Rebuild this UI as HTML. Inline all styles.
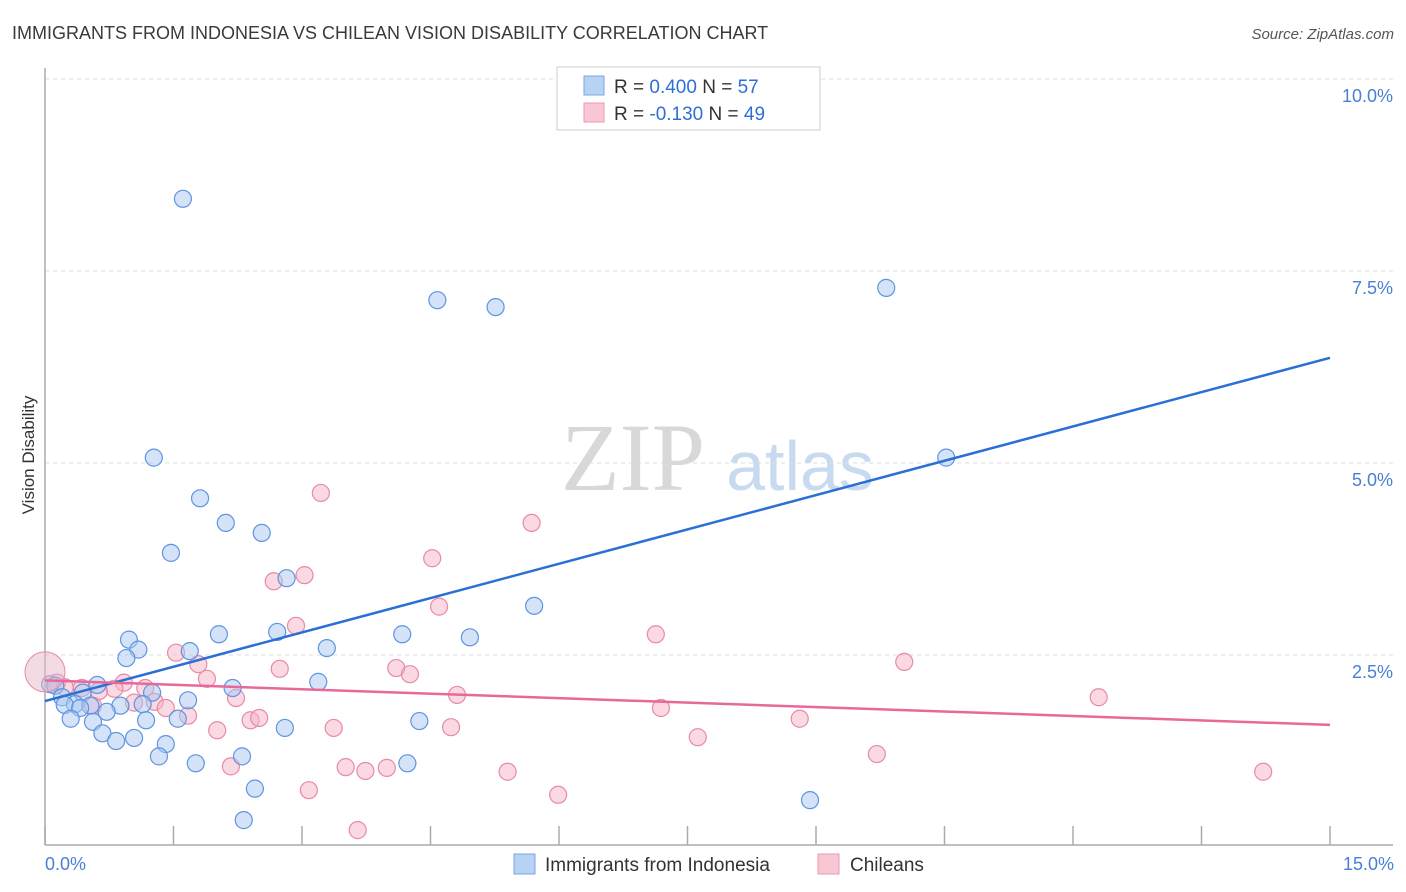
<!DOCTYPE html>
<html><head><meta charset="utf-8"><style>
body{margin:0;background:#fff;font-family:"Liberation Sans",sans-serif;}
</style></head><body>
<svg id="chart" width="1406" height="892" xmlns="http://www.w3.org/2000/svg" style="display:block">
<text x="12" y="39" font-size="18" fill="#3a3a3a">IMMIGRANTS FROM INDONESIA VS CHILEAN VISION DISABILITY CORRELATION CHART</text>
<text x="1394" y="39" font-size="15" fill="#555" font-style="italic" text-anchor="end">Source: ZipAtlas.com</text>
<g>
<text x="633" y="490" font-size="96" fill="#d8d8d8" font-family="Liberation Serif,serif" text-anchor="middle">ZIP</text>
<text x="800" y="490" font-size="70" fill="#c8daf0" text-anchor="middle">atlas</text>
</g>
<g id="grid"></g>
<line x1="45" y1="845" x2="1393" y2="845" stroke="#aaa" stroke-width="1.5"/>
<line x1="45" y1="68" x2="45" y2="845" stroke="#aaa" stroke-width="1.5"/>
<g id="xticks"></g>
<text transform="translate(34,455) rotate(-90)" font-size="17" fill="#333" text-anchor="middle">Vision Disability</text>
<text x="45" y="870" font-size="18" fill="#4a7fd6">0.0%</text>
<text x="1394" y="870" font-size="18" fill="#4a7fd6" text-anchor="end">15.0%</text>
<g id="pts"></g>
<g id="trends"></g>
<g>
<rect x="557" y="67" width="263" height="63" fill="#fff" stroke="#ccc"/>
<rect x="584" y="76" width="20" height="19" fill="#b8d2f4" stroke="#7aa6e6"/>
<rect x="584" y="103" width="20" height="19" fill="#f9c6d4" stroke="#ea9ab2"/>
<text x="614" y="93" font-size="19" fill="#333">R = <tspan fill="#2f6fd6">0.400</tspan>   N = <tspan fill="#2f6fd6">57</tspan></text>
<text x="614" y="120" font-size="19" fill="#333">R = <tspan fill="#2f6fd6">-0.130</tspan>   N = <tspan fill="#2f6fd6">49</tspan></text>
</g>
<g>
<rect x="514" y="854" width="21" height="20" fill="#b8d2f4" stroke="#7aa6e6"/>
<text x="545" y="871" font-size="19" fill="#333">Immigrants from Indonesia</text>
<rect x="818" y="854" width="21" height="20" fill="#f9c6d4" stroke="#ea9ab2"/>
<text x="850" y="871" font-size="19" fill="#333">Chileans</text>
</g>
</svg>
<script>
const yTicks=[2.5,5.0,7.5,10.0];
const yTickLabels=["2.5%","5.0%","7.5%","10.0%"];
const xTicks=[0,1.5,3,4.5,6,7.5,9,10.5,12,13.5,15];
const blueX=[1.61,4.58,5.26,9.82,10.52,1.27,1.81,2.11,2.53,1.47,2.82,5.71,2.03,2.71,4.17,4.96,0.98,1.09,3.29,1.69,0.95,3.19,2.19,0.06,0.12,0.61,0.44,1.25,0.20,1.67,0.35,0.23,0.53,0.88,1.14,0.72,0.41,0.30,0.56,1.18,1.55,4.37,2.80,0.67,0.83,1.04,1.41,2.30,1.33,1.76,4.23,2.45,8.93,2.32];
const blueY=[8.44,7.12,7.03,7.28,5.07,5.07,4.54,4.22,4.09,3.83,3.50,3.14,2.77,2.80,2.77,2.73,2.70,2.57,2.59,2.55,2.46,2.15,2.07,2.12,2.10,2.11,2.01,2.01,1.95,1.91,1.86,1.85,1.84,1.84,1.86,1.76,1.81,1.67,1.63,1.65,1.67,1.64,1.55,1.48,1.38,1.42,1.34,1.18,1.18,1.09,1.09,0.76,0.61,0.35];
const pinkX=[3.22,5.68,4.52,3.03,2.67,4.60,7.13,2.93,1.53,10.03,1.79,4.10,2.74,4.26,1.89,0.14,0.23,0.43,0.92,0.81,1.17,0.63,2.23,4.81,12.30,1.04,1.28,0.56,1.41,7.19,1.67,2.40,2.50,8.81,4.74,2.01,3.37,7.62,9.71,2.17,3.51,3.74,3.99,5.40,14.22,3.08,5.99,3.65];
const pinkY=[4.61,4.22,3.76,3.54,3.46,3.13,2.77,2.88,2.53,2.41,2.38,2.33,2.32,2.25,2.19,2.14,2.08,2.07,2.14,2.06,2.07,2.03,1.94,1.98,1.95,1.88,1.89,1.84,1.81,1.81,1.71,1.65,1.68,1.67,1.56,1.52,1.55,1.43,1.21,1.05,1.04,0.99,1.03,0.98,0.98,0.74,0.68,0.22];
const blueTrend=[1.90,6.37];
const pinkTrend=[2.17,1.59];
const NS="http://www.w3.org/2000/svg";
const sx=v=>45+v/15*1285, sy=v=>847-v*76.8;
function mk(tag,attrs,parent){const e=document.createElementNS(NS,tag);for(const k in attrs)e.setAttribute(k,attrs[k]);document.getElementById(parent).appendChild(e);return e;}
yTicks.forEach((t,i)=>{
 const l=mk('line',{x1:45,x2:1393,y1:sy(t),y2:sy(t),stroke:'#ddd','stroke-dasharray':'4,4'},'grid');
 
 
 const tx=mk('text',{x:1393,y:sy(t)+23,'font-size':18,fill:'#4a7fd6','text-anchor':'end'},'grid');
 tx.textContent=yTickLabels[i];
 
 
});
{const l=mk('line',{x1:45,x2:1393,y1:79,y2:79,stroke:'#ddd','stroke-dasharray':'4,4'},'grid');
 
 }
xTicks.forEach(t=>{
 const l=mk('line',{x1:sx(t),x2:sx(t),y1:826,y2:845,stroke:'#aaa','stroke-width':1.5},'xticks');
 
 
});
function pts(X,Y,fill,stroke,name){
 X.forEach((x,i)=>{
  const c=mk('circle',{cx:sx(x),cy:sy(Y[i]),r:8.5,fill:fill,'fill-opacity':0.5,stroke:stroke,'stroke-width':1.2},'pts');
  
  
 });
}
pts(pinkX,pinkY,'#f6b4c6','#e88aa6','chileans-point');
pts(blueX,blueY,'#a9c8f2','#5f94e0','indonesia-point');
{const b=mk('circle',{cx:45,cy:sy(2.28),r:20,fill:'#e8b8c8','fill-opacity':0.5,stroke:'#e88aa6'},'pts');
 
 }
const bt=mk('line',{x1:sx(0),y1:sy(blueTrend[0]),x2:sx(15),y2:sy(blueTrend[1]),stroke:'#2a6fd6','stroke-width':2.5},'trends');


const pt=mk('line',{x1:sx(0),y1:sy(pinkTrend[0]),x2:sx(15),y2:sy(pinkTrend[1]),stroke:'#e8689a','stroke-width':2.5},'trends');


</script>
</body></html>
